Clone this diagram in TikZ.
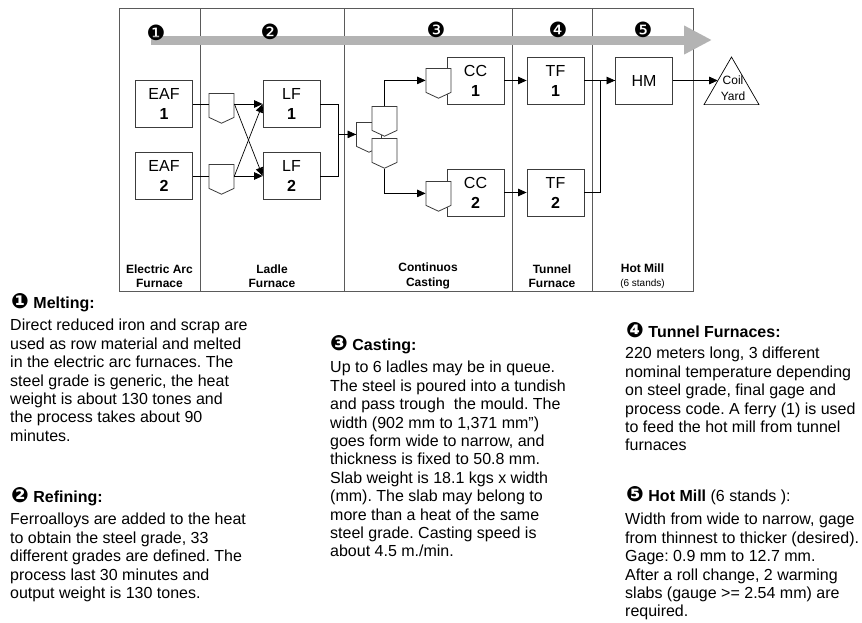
\documentclass[tikz,border=0pt]{standalone}
\usepackage{fontspec}
\setmainfont{Liberation Sans}
\newfontfamily\dingfont{DejaVu Sans}
\usetikzlibrary{arrows.meta, shapes.geometric, shapes.symbols, calc}
\definecolor{framegray}{RGB}{90,90,90}
\definecolor{bargray}{RGB}{179,179,179}
\definecolor{boxgray}{RGB}{60,60,60}
\frenchspacing

\begin{document}
\begin{tikzpicture}[x=1pt, y=-1pt,
  unit/.style={draw=boxgray, line width=0.8pt, minimum width=57pt, minimum height=47pt,
    inner sep=0pt, align=center, font=\fontsize{16}{20}\selectfont},
  ladle/.style={draw=boxgray, fill=white, line width=0.8pt, signal, signal to=south,
    signal from=nowhere, signal pointer angle=130, minimum width=25pt, minimum height=24pt,
    inner sep=0pt, anchor=north},
  yard/.style={draw=black, line width=0.7pt, regular polygon, regular polygon sides=3,
    minimum size=63.5pt, inner sep=0pt},
  flow/.style={-{Triangle[length=8.5pt, width=7.5pt]}, line width=0.7pt},
  link/.style={line width=0.7pt},
  colhead/.style={font=\fontsize{12}{14.5}\selectfont\bfseries, align=center},
  stepnum/.style={font=\dingfont\fontsize{21}{21}\selectfont, inner sep=0pt},
  headtxt/.style={font=\fontsize{16}{18}\selectfont\bfseries, anchor=west, inner sep=0pt},
  bodytxt/.style={font=\fontsize{16}{18.4}\selectfont, align=left, anchor=north west, inner sep=0pt},
]
\useasboundingbox (0,0) rectangle (862,622);

% === frame and process bar ===
\draw[framegray, line width=0.8pt] (119,8) rectangle (693,291);
\foreach \cx in {200,344,512,592}
  \draw[framegray, line width=0.8pt] (\cx,8) -- (\cx,291);
\draw[bargray, line width=9pt, -{Triangle[length=28pt, width=27pt]}] (151,40) -- (712,40);

\node[stepnum] (n1) at (156,33) {❶};
\node[stepnum] (n2) at (270,32) {❷};
\node[stepnum] (n3) at (436,30) {❸};
\node[stepnum] (n4) at (558,30) {❹};
\node[stepnum] (n5) at (643,30) {❺};

% === units ===
\node[unit] (eaf1) at (164,104) {EAF\\\textbf{1}};
\node[unit] (eaf2) at (164,176) {EAF\\\textbf{2}};
\node[unit] (lf1) at (291.5,104) {LF\\\textbf{1}};
\node[unit] (lf2) at (291.5,176) {LF\\\textbf{2}};
\node[unit] (cc1) at (475.5,80.5) {CC\\\textbf{1}};
\node[unit] (cc2) at (475.5,192.5) {CC\\\textbf{2}};
\node[unit] (tf1) at (555.5,80.5) {TF\\\textbf{1}};
\node[unit] (tf2) at (555.5,192.5) {TF\\\textbf{2}};
\node[unit] (hm) at (644,80.5) {HM};
\node[yard] (coil) at (731.5,88.75) {};
\node[font=\fontsize{12}{16}\selectfont, align=center, inner sep=0pt] (coiltxt) at (733,88) {Coil\\Yard};
\coordinate (coilin) at ($(coil.corner 1)!0.49!(coil.corner 2)$);

% === ladles ===
\node[ladle] (lad1) at (221.5,93) {};
\node[ladle] (lad2) at (221.5,164) {};
\node[ladle] (lad3) at (369,122) {};
\node[ladle] (lad4) at (384.5,106) {};
\node[ladle] (lad5) at (384.5,138) {};
\node[ladle] (lad6) at (438.5,68) {};
\node[ladle] (lad7) at (438.5,181) {};

% === flow ===
\draw[link] (eaf1.east) -- (eaf1.east -| lad1.west);
\draw[link] (eaf2.east) -- (eaf2.east -| lad2.west);
\draw[flow] (lad1.east |- lf1.west) -- (lf1.west);
\draw[flow] (lad2.east |- lf2.west) -- (lf2.west);
\draw[flow] (lad1.east |- lf1.west) -- (lf2.west);
\draw[flow] (lad2.east |- lf2.west) -- (lf1.west);
\draw[flow] (lf1.east) -- ++(18,0) |- (lad3.west);
\draw[link] (lf2.east) -- ++(18,0) |- (lad3.west);
\draw[flow] (lad4.north) |- (lad6.west);
\draw[flow] (lad5.south) |- (lad7.west);
\draw[flow] (cc1) -- (tf1);
\draw[flow] (cc2) -- (tf2);
\draw[flow] (tf1) -- (hm);
\draw[link] (tf2.east) -- ++(16,0) |- (hm.west);
\draw[flow] (hm.east) -- (hm.east -| coilin);

% === column titles ===
\node[colhead] (hd1) at (159.5,276) {Electric Arc\\Furnace};
\node[colhead] (hd2) at (272,276) {Ladle\\Furnace};
\node[colhead] (hd3) at (428,276) {Continuos\\Casting};
\node[colhead] (hd4) at (552,276) {Tunnel\\Furnace};
\node[colhead] (hd5) at (642.5,276) {Hot Mill\\{\fontsize{10}{12}\selectfont\mdseries (6 stands)}};

% === notes ===
\node[headtxt] (melthd) at (11,303) {{\dingfont\fontsize{21}{21}\selectfont ❶} Melting:};
\node[bodytxt] (meltbody) at (10,319) {Direct reduced iron and scrap are\\
used as row material and melted\\
in the electric arc furnaces. The\\
steel grade is generic, the heat\\
weight is about 130 tones and\\
the process takes about 90\\
minutes.};

\node[headtxt] (refhd) at (11,497) {{\dingfont\fontsize{21}{21}\selectfont ❷} Refining:};
\node[bodytxt] (refbody) at (10,513) {Ferroalloys are added to the heat\\
to obtain the steel grade, 33\\
different grades are defined. The\\
process last 30 minutes and\\
output weight is 130 tones.};

\node[headtxt] (casthd) at (330,345) {{\dingfont\fontsize{21}{21}\selectfont ❸} Casting:};
\node[bodytxt] (castbody) at (330,361) {Up to 6 ladles may be in queue.\\
The steel is poured into a tundish\\
and pass trough\ \ the mould. The\\
width (902 mm to 1,371 mm”)\\
goes form wide to narrow, and\\
thickness is fixed to 50.8 mm.\\
Slab weight is 18.1 kgs x width\\
(mm). The slab may belong to\\
more than a heat of the same\\
steel grade. Casting speed is\\
about 4.5 m./min.};

\node[headtxt] (tunhd) at (626,330) {{\dingfont\fontsize{21}{21}\selectfont ❹} Tunnel Furnaces:};
\node[bodytxt] (tunbody) at (625,347) {220 meters long, 3 different\\
nominal temperature depending\\
on steel grade, final gage and\\
process code. A ferry (1) is used\\
to feed the hot mill from tunnel\\
furnaces};

\node[headtxt] (hmhd) at (626,496) {{\dingfont\fontsize{21}{21}\selectfont ❺} Hot Mill \mdseries(6 stands ):};
\node[bodytxt] (hmbody) at (625,513) {Width from wide to narrow, gage\\
from thinnest to thicker (desired).\\
Gage: 0.9 mm to 12.7 mm.\\
After a roll change, 2 warming\\
slabs (gauge >= 2.54 mm) are\\
required.};

\end{tikzpicture}
\end{document}
